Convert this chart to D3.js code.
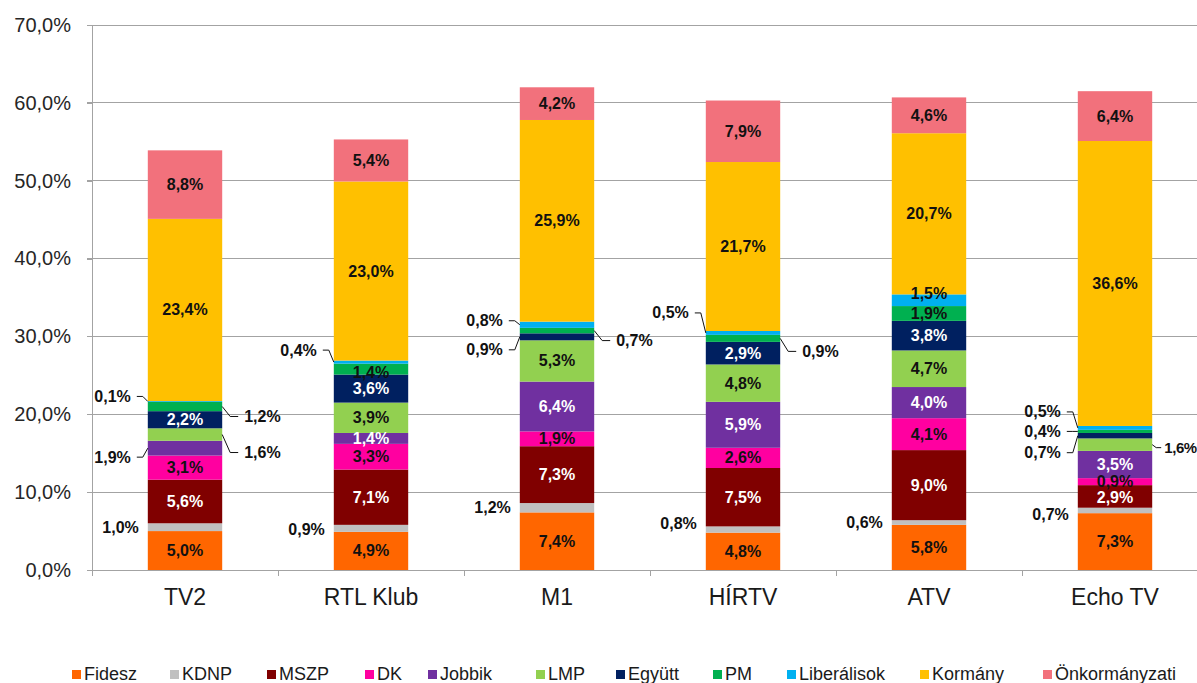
<!DOCTYPE html>
<html><head><meta charset="utf-8">
<script src="https://cdn.jsdelivr.net/npm/d3@7"></script>
<style>
html,body{margin:0;padding:0;background:#fff;}
svg{display:block;font-family:"Liberation Sans",Arial,sans-serif;}
</style></head>
<body><svg id="c" width="1197" height="683"></svg>
<script>
// ---- data ----
const categories = ["TV2","RTL Klub","M1","HÍRTV","ATV","Echo TV"];
const seriesNames = ["Fidesz","KDNP","MSZP","DK","Jobbik","LMP","Együtt","PM","Liberálisok","Kormány","Önkormányzati"];
const fidesz        = [5.0, 4.9, 7.4, 4.8, 5.8, 7.3];
const kdnp          = [1.0, 0.9, 1.2, 0.8, 0.6, 0.7];
const mszp          = [5.6, 7.1, 7.3, 7.5, 9.0, 2.9];
const dk            = [3.1, 3.3, 1.9, 2.6, 4.1, 0.9];
const jobbik        = [1.9, 1.4, 6.4, 5.9, 4.0, 3.5];
const lmp           = [1.6, 3.9, 5.3, 4.8, 4.7, 1.6];
const egyutt        = [2.2, 3.6, 0.9, 2.9, 3.8, 0.7];
const pm            = [1.2, 1.4, 0.7, 0.9, 1.9, 0.4];
const liberalisok   = [0.1, 0.4, 0.8, 0.5, 1.5, 0.5];
const kormany       = [23.4, 23.0, 25.9, 21.7, 20.7, 36.6];
const onkormanyzati = [8.8, 5.4, 4.2, 7.9, 4.6, 6.4];
const yTicks = [0, 10, 20, 30, 40, 50, 60, 70];

const seriesValues = [fidesz,kdnp,mszp,dk,jobbik,lmp,egyutt,pm,liberalisok,kormany,onkormanyzati];

// ---- styles / layout ----
const colors = ["#FF6600","#C0C0C0","#800000","#FF00A0","#7030A0","#92D050","#002060","#00B050","#00B0F0","#FFC000","#F2717C"];
const whiteText = new Set(["MSZP","Jobbik","Együtt"]);
const legendX = [72,170,267,365,428,536,616,713,787,920,1043];
// outside labels: category, series, side (L/R), dy in px from segment centre, leader?, compact?
const callouts = [
  ["TV2","KDNP","L",0,false],["TV2","Liberálisok","L",-5,true],["TV2","Jobbik","L",9,true],
  ["TV2","PM","R",10,true],["TV2","LMP","R",18,true],
  ["RTL Klub","KDNP","L",1,false],["RTL Klub","Liberálisok","L",-12,true],
  ["M1","KDNP","L",0,false],["M1","Liberálisok","L",-4,true],["M1","Együtt","L",13,true],["M1","PM","R",10,true],
  ["HÍRTV","KDNP","L",-6,false],["HÍRTV","Liberálisok","L",-20,true],["HÍRTV","PM","R",13,true],
  ["ATV","KDNP","L",0,false],
  ["Echo TV","KDNP","L",4,false],["Echo TV","Liberálisok","L",-16,true],["Echo TV","PM","L",0,true],
  ["Echo TV","Együtt","L",17,true],["Echo TV","LMP","R",3,true,true]
];
const insideShift = {"ATV|Liberálisok":-7,"RTL Klub|PM":3,"Echo TV|MSZP":1};

const svg = d3.select("#c");
const mLeft = 92, mBottom = 570, mTop = 25;
const x = d3.scaleBand().domain(categories).range([mLeft, mLeft + 186*6]).paddingInner(0.6).paddingOuter(0.3);
const y = d3.scaleLinear().domain([0,70]).range([mBottom, mTop]);

const rows = categories.map((c,i)=>{const o={cat:c}; seriesNames.forEach((s,j)=>o[s]=seriesValues[j][i]); return o;});
const stacked = d3.stack().keys(seriesNames)(rows);

// gridlines
svg.append("g").selectAll("line").data(yTicks).join("line")
  .attr("x1", mLeft-5).attr("x2", 1197).attr("y1", d=>y(d)).attr("y2", d=>y(d))
  .attr("stroke","#a3a3a3").attr("stroke-width",1).attr("shape-rendering","crispEdges");

// y axis
const yAxis = svg.append("g").attr("transform",`translate(${mLeft},0)`)
  .call(d3.axisLeft(y).tickValues(yTicks).tickSize(5).tickSizeOuter(0).tickPadding(16)
    .tickFormat(d=>d3.format(".1f")(d).replace(".",",")+"%"));
yAxis.select(".domain").attr("stroke","#a3a3a3").attr("shape-rendering","crispEdges");
yAxis.selectAll(".tick line").attr("stroke","#a3a3a3").attr("shape-rendering","crispEdges");
yAxis.selectAll("text").attr("font-size",20).attr("fill","#262626").attr("font-family","Liberation Sans, Arial, sans-serif");

// x axis boundary ticks
const step = x.step();
svg.append("g").selectAll("line").data(d3.range(categories.length+1)).join("line")
  .attr("x1", i=>mLeft+i*step).attr("x2", i=>mLeft+i*step).attr("y1", mBottom).attr("y2", mBottom+6)
  .attr("stroke","#a3a3a3").attr("shape-rendering","crispEdges");
const xAxis = svg.append("g").attr("transform",`translate(0,${mBottom})`)
  .call(d3.axisBottom(x).tickSize(0).tickPadding(19));
xAxis.select(".domain").remove();
xAxis.selectAll("text").attr("font-size",23).attr("fill","#1a1a1a").attr("font-family","Liberation Sans, Arial, sans-serif");

// bars
const gBars = svg.append("g");
stacked.forEach((layer,j)=>{
  gBars.append("g").attr("fill",colors[j]).selectAll("rect").data(layer).join("rect")
    .attr("x", d=>x(d.data.cat)).attr("width", x.bandwidth())
    .attr("y", d=>y(d[1])).attr("height", d=>y(d[0])-y(d[1]));
});

const fmt = v => d3.format(".1f")(v).replace(".",",")+"%";
const calloutMap = new Map(callouts.map(c=>[c[0]+"|"+c[1], c]));
const gLab = svg.append("g").attr("font-size",16).attr("font-weight","bold");
stacked.forEach((layer,j)=>{
  const s = seriesNames[j];
  layer.forEach(d=>{
    const cat = d.data.cat;
    const key = cat+"|"+s;
    const cy = (y(d[0])+y(d[1]))/2;
    const co = calloutMap.get(key);
    if(!co){
      gLab.append("text").attr("x", x(cat)+x.bandwidth()/2).attr("y", cy + (insideShift[key]||0))
        .attr("text-anchor","middle").attr("dominant-baseline","central")
        .attr("fill", whiteText.has(s) ? "#ffffff" : "#111111").text(fmt(d[1]-d[0]));
    } else {
      const side = co[2], dy = co[3], leader = co[4], compact = co[5];
      const ax = side==="L" ? x(cat) : x(cat)+x.bandwidth();
      const ly = cy + dy;
      let tx;
      if(leader){
        let pts;
        if(side==="L"){ pts = [[ax-11,ly],[ax-5,ly],[ax,cy]]; tx = ax-17; }
        else if(compact){ pts = [[ax,cy],[ax+4,ly],[ax+9,ly]]; tx = ax+12; }
        else { pts = [[ax,cy],[ax+8,ly],[ax+16,ly]]; tx = ax+22; }
        gLab.append("path").attr("d", d3.line()(pts)).attr("fill","none").attr("stroke","#111").attr("stroke-width",1);
      } else {
        tx = ax-9;
      }
      const t = gLab.append("text").attr("x", tx).attr("y", ly)
        .attr("text-anchor", side==="L" ? "end" : "start").attr("dominant-baseline","central")
        .attr("fill","#111111").text(fmt(d[1]-d[0]));
      if(compact) t.attr("font-size",15).attr("letter-spacing","-0.4");
    }
  });
});

// legend
const gLeg = svg.append("g").attr("font-size",18).attr("fill","#1a1a1a");
seriesNames.forEach((s,j)=>{
  gLeg.append("rect").attr("x",legendX[j]).attr("y",670).attr("width",9).attr("height",9).attr("fill",colors[j]);
  gLeg.append("text").attr("x",legendX[j]+12).attr("y",680).text(s);
});
</script></body></html>
